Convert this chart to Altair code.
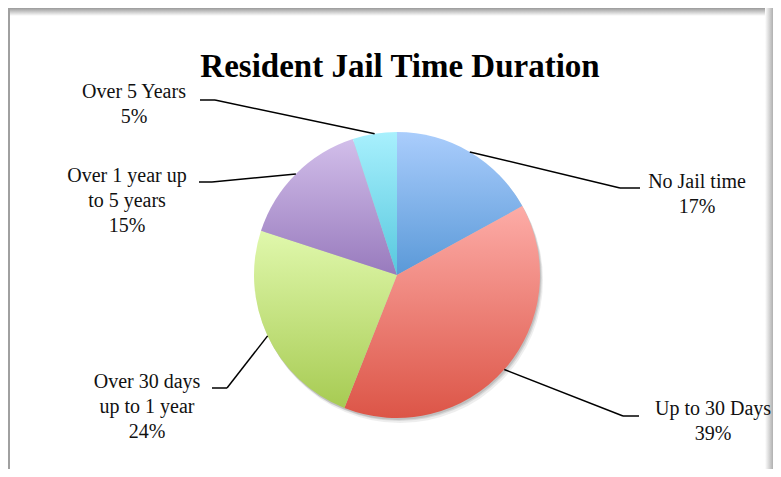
import math
import altair as alt
import pandas as pd

# ---- data ----
categories = ["No Jail time", "Up to 30 Days", "Over 30 days up to 1 year",
              "Over 1 year up to 5 years", "Over 5 Years"]
label_lines = ["No Jail time", "Up to 30 Days", "Over 30 days\nup to 1 year",
               "Over 1 year up\nto 5 years", "Over 5 Years"]
percents = [17, 39, 24, 15, 5]

# ---- layout / style (pixels, chart coordinates) ----
W, H = 765, 461
CX, CY, R = 389, 267, 143
label_x = [689, 705, 139, 119, 126]
label_y = [180, 407, 380, 174, 90]
elbow_x = [612, 615, 219, 204, 207]
elbow_y = [180, 408, 380, 174, 92]
end_x = [632, 631, 204, 191, 192]
grad_top = ["#AACDFC", "#FDACA7", "#E0F8AC", "#D2BEEA", "#A8F0FD"]
grad_bottom = ["#5A99D8", "#DC5547", "#A7CB53", "#987ABD", "#57C8DE"]
FONT = "Liberation Serif"

df = pd.DataFrame({
    "category": categories, "label": label_lines, "pct": percents,
    "order": list(range(len(categories))),
    "lx": label_x, "ly": label_y, "kx": elbow_x, "ky": elbow_y, "hx": end_x,
})

base = alt.Chart(df).transform_window(
    cum="sum(pct)", sort=[alt.SortField("order")], frame=[None, 0]
).transform_calculate(
    start="datum.cum - datum.pct",
    mid=f"(datum.cum - datum.pct / 2) * 2 * PI / 100",
).transform_calculate(
    ex=f"{CX} + {R} * sin(datum.mid)",
    ey=f"{CY} - {R} * cos(datum.mid)",
    txt="datum.label + '\\n' + datum.pct + '%'",
)

theta_scale = alt.Scale(domain=[0, 100], range=[0, 2 * math.pi])

one = pd.DataFrame({"k": [0]})

# frame decorations
frame_top = alt.Chart(one).mark_rect(
    color=alt.LinearGradient(gradient="linear", x1=0, y1=0, x2=0, y2=1,
                             stops=[alt.GradientStop(color="#9a9a9a", offset=0),
                                    alt.GradientStop(color="#ffffff", offset=1)])
).encode(x=alt.value(0), x2=alt.value(W), y=alt.value(0), y2=alt.value(8))
frame_left = alt.Chart(one).mark_rect(color="#a0a0a0").encode(
    x=alt.value(0), x2=alt.value(2), y=alt.value(0), y2=alt.value(H))
frame_right = alt.Chart(one).mark_rect(
    color=alt.LinearGradient(gradient="linear", x1=0, y1=0, x2=1, y2=0,
                             stops=[alt.GradientStop(color="#ffffff", offset=0),
                                    alt.GradientStop(color="#b0b0b0", offset=1)])
).encode(x=alt.value(W - 8), x2=alt.value(W), y=alt.value(0), y2=alt.value(H))

# pie shadow
shadows = []
for dx, dy, op in [(1, 2, 0.18), (2, 3, 0.14), (3, 5, 0.10)]:
    shadows.append(
        alt.Chart(one).mark_arc(color="#555555", opacity=op, outerRadius=R,
                                theta=0, theta2=2 * math.pi)
        .encode(x=alt.value(CX + dx), y=alt.value(CY + dy))
    )

# slices, each with its own vertical gradient
slices = []
for cat, top, bot in zip(categories, grad_top, grad_bottom):
    slices.append(
        base.transform_filter(alt.datum.category == cat).mark_arc(
            outerRadius=R,
            color=alt.LinearGradient(gradient="linear", x1=0, y1=0, x2=0, y2=1,
                                     stops=[alt.GradientStop(color=top, offset=0),
                                            alt.GradientStop(color=bot, offset=1)]),
        ).encode(
            theta=alt.Theta("start:Q", scale=theta_scale),
            theta2=alt.Theta2("cum:Q"),
            x=alt.value(CX), y=alt.value(CY),
        )
    )

leader1 = base.mark_rule(color="#000000", strokeWidth=1.5).encode(
    x=alt.X("ex:Q", scale=None, axis=None), y=alt.Y("ey:Q", scale=None, axis=None),
    x2="kx:Q", y2="ky:Q")
leader2 = base.mark_rule(color="#000000", strokeWidth=1.5).encode(
    x=alt.X("kx:Q", scale=None, axis=None), y=alt.Y("ky:Q", scale=None, axis=None),
    x2="hx:Q")

labels = base.mark_text(font=FONT, fontSize=20, lineBreak="\n", lineHeight=25,
                        align="center", baseline="alphabetic", color="#111111").encode(
    x=alt.X("lx:Q", scale=None, axis=None), y=alt.Y("ly:Q", scale=None, axis=None),
    text="txt:N")

title = alt.Chart(one).mark_text(
    text="Resident Jail Time Duration", font=FONT, fontSize=33, fontWeight="bold",
    align="center", baseline="alphabetic", color="#000000"
).encode(x=alt.value(392), y=alt.value(69))

chart = alt.layer(
    frame_top, frame_left, frame_right, *shadows, *slices, leader1, leader2, labels, title
).properties(
    width=W, height=H, autosize="none", padding=0, background="white"
).configure_view(stroke=None)

chart.save("out.html", embed_options={"renderer": "svg", "actions": False})
